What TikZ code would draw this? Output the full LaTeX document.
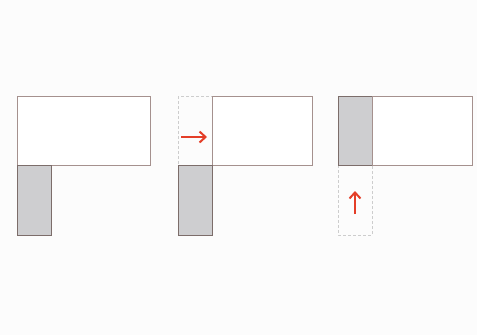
\documentclass[tikz,border=0pt]{standalone}
\usetikzlibrary{arrows.meta}
\definecolor{edge}{RGB}{165,145,142}
\definecolor{shade}{RGB}{206,206,208}
\definecolor{ghost}{RGB}{205,205,205}
\definecolor{move}{RGB}{228,62,40}
\definecolor{paper}{RGB}{252,252,252}
\tikzset{
  room/.style={draw=edge, line width=1pt, fill=white},
  core/.style={draw=edge!75!black, line width=1pt, fill=shade},
  trace/.style={draw=ghost, line width=0.6pt, dash pattern=on 3pt off 2pt},
  push/.style={draw=move, line width=2pt, -{Straight Barb[length=6pt,width=11pt,line width=2pt]}}
}
\begin{document}
\begin{tikzpicture}[x=1pt,y=-1pt]
\fill[paper] (0,0) rectangle (477,335);
\useasboundingbox (0,0) rectangle (477,335);
% first layout
\draw[room] (17,96) rectangle (150,165);
\draw[core] (17,165) rectangle (51,235);
% second layout: slab slides right
\draw[trace] (178,96) rectangle (212,165);
\draw[room] (212,96) rectangle (312,165);
\draw[core] (178,165) rectangle (212,235);
\coordinate (a1) at (181,137);
\coordinate (a2) at (207,137);
\draw[push] (a1) -- (a2);
% third layout: block slides up
\draw[trace] (338,165) rectangle (372,235);
\draw[core] (338,96) rectangle (372,165);
\draw[room] (372,96) rectangle (472,165);
\coordinate (b1) at (355,214);
\coordinate (b2) at (355,191);
\draw[push] (b1) -- (b2);
\end{tikzpicture}
\end{document}
